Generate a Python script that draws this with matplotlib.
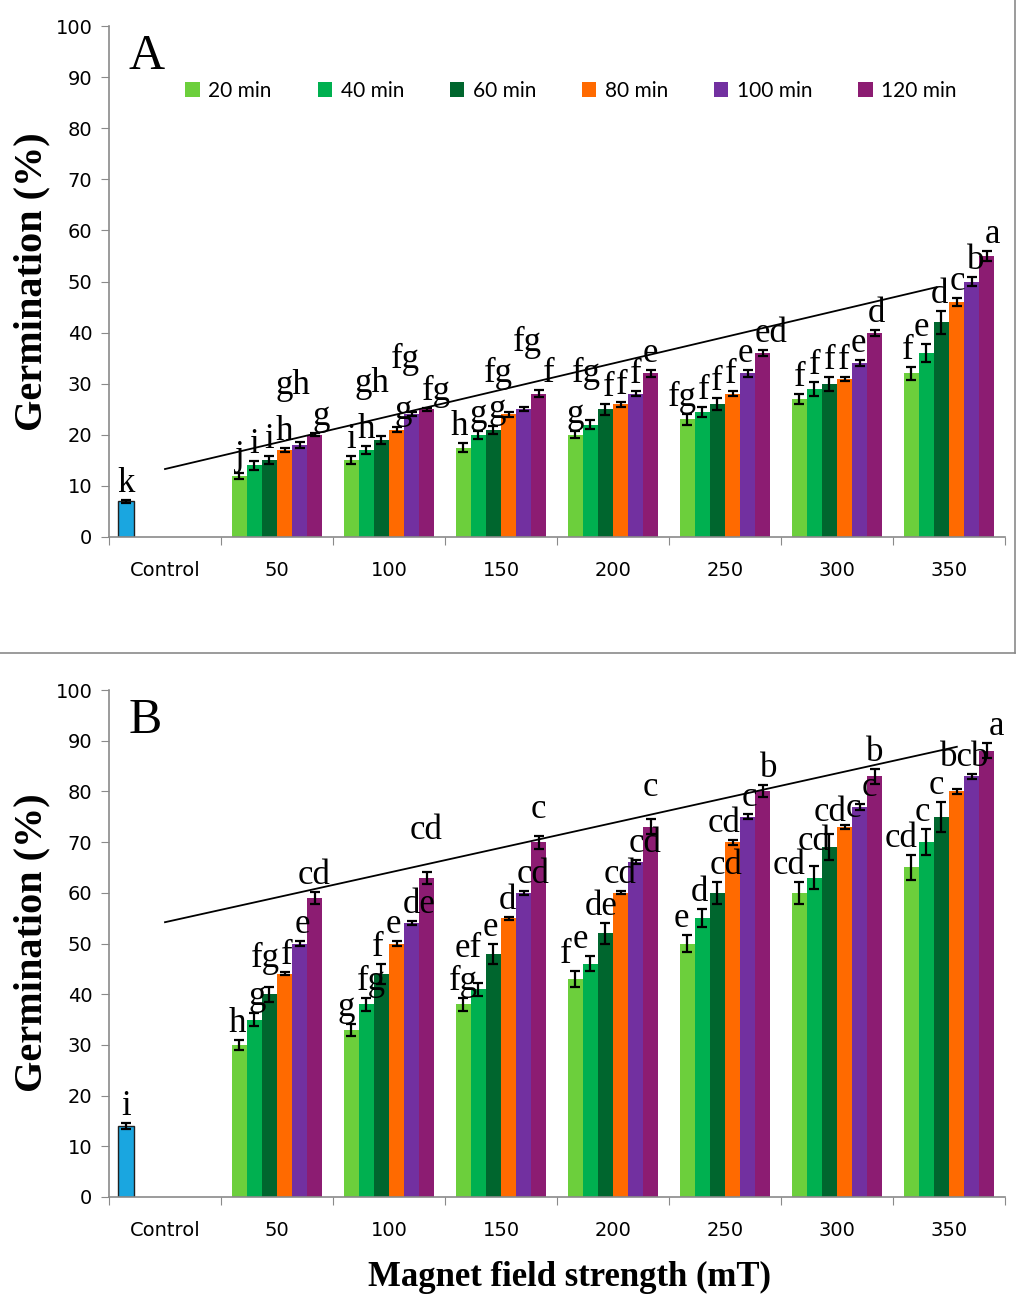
import matplotlib
matplotlib.use("Agg")
import matplotlib.pyplot as plt
from matplotlib.patches import Patch
from matplotlib.lines import Line2D
import numpy as np

# ---- data -------------------------------------------------------------
categories = ["Control", "50", "100", "150", "200", "250", "300", "350"]
durations = ["20 min", "40 min", "60 min", "80 min", "100 min", "120 min"]

# Panel A
control_a = 7
control_a_err = 0.3
control_a_letter = "k"
a_means = {
    "20 min": [12, 15, 17.5, 20, 23, 27, 32],
    "40 min": [14, 17, 20, 22, 24.5, 29, 36],
    "60 min": [15, 19, 21, 25, 26, 30, 42],
    "80 min": [17, 21, 24, 26, 28, 31, 46],
    "100 min": [18, 24, 25, 28, 32, 34, 50],
    "120 min": [20, 25, 28, 32, 36, 40, 55],
}
a_errs = {
    "20 min": [0.6, 0.8, 0.9, 0.7, 1.0, 1.0, 1.3],
    "40 min": [0.8, 0.8, 0.8, 0.9, 1.0, 1.4, 1.8],
    "60 min": [0.8, 0.8, 0.8, 1.1, 1.2, 1.4, 2.2],
    "80 min": [0.4, 0.5, 0.5, 0.5, 0.5, 0.4, 0.8],
    "100 min": [0.5, 0.4, 0.4, 0.5, 0.6, 0.6, 0.8],
    "120 min": [0.3, 0.3, 0.7, 0.6, 0.6, 0.6, 0.9],
}
a_letters = {
    "20 min": ["j", "i", "h", "g", "fg", "f", "f"],
    "40 min": ["i", "h", "g", "fg", "f", "f", "e"],
    "60 min": ["i", "gh", "g", "f", "f", "f", "d"],
    "80 min": ["h", "g", "fg", "f", "f", "f", "c"],
    "100 min": ["gh", "fg", "fg", "f", "e", "e", "b"],
    "120 min": ["g", "fg", "f", "e", "ed", "d", "a"],
}
trend_a_x = [0.0, 6.89]
trend_a_y = [13.3, 48.9]

# Panel B
control_b = 14
control_b_err = 0.5
control_b_letter = "i"
b_means = {
    "20 min": [30, 33, 38, 43, 50, 60, 65],
    "40 min": [35, 38, 41, 46, 55, 63, 70],
    "60 min": [40, 44, 48, 52, 60, 69, 75],
    "80 min": [44, 50, 55, 60, 70, 73, 80],
    "100 min": [50, 54, 60, 66, 75, 77, 83],
    "120 min": [59, 63, 70, 73, 80, 83, 88],
}
b_errs = {
    "20 min": [1.0, 1.2, 1.3, 1.5, 1.7, 2.2, 2.5],
    "40 min": [1.2, 1.3, 1.3, 1.5, 1.8, 2.2, 2.5],
    "60 min": [1.5, 2.0, 2.0, 2.0, 2.2, 2.5, 3.0],
    "80 min": [0.3, 0.4, 0.3, 0.3, 0.5, 0.4, 0.5],
    "100 min": [0.4, 0.4, 0.4, 0.4, 0.5, 0.6, 0.5],
    "120 min": [1.2, 1.2, 1.3, 1.5, 1.2, 1.5, 1.5],
}
b_letters = {
    "20 min": ["h", "g", "fg", "f", "e", "cd", "cd"],
    "40 min": ["g", "fg", "ef", "e", "d", "cd", "c"],
    "60 min": ["fg", "f", "e", "de", "cd", "cd", "c"],
    "80 min": ["f", "e", "d", "cd", "cd", "c", "bc"],
    "100 min": ["e", "de", "cd", "cd", "c", "c", "b"],
    "120 min": ["cd", "cd", "c", "c", "b", "b", "a"],
}
trend_b_x = [0.0, 7.07]
trend_b_y = [54.2, 88.8]

# ---- styling ----------------------------------------------------------
colors = ["#6ccf3c", "#00b050", "#00662e", "#ff6a00", "#7230a0", "#8c1c72"]
control_color = "#1aa6e0"
serif = ["Liberation Serif", "DejaVu Serif"]
sans = ["DejaVu Sans"]
letter_size = 25

W, H = 1019, 1296
fig = plt.figure(figsize=(W / 100, H / 100), dpi=100)

bar_w = 0.134
ctrl_x = -0.345
px_per_unit_y = 5.1
px_per_unit_x = 112.0

# letters that sit higher than the default position (pixels)
lifts_a = {(0, 4): 40, (1, 2): 36, (1, 4): 36, (2, 3): 22, (2, 4): 48, (3, 1): 30}
lifts_b = {(0, 2): 12, (1, 5): 25, (2, 1): 18, (2, 5): 10, (3, 5): 15,
           (5, 1): 8, (5, 2): 6, (6, 3): 15}

group_texts = []


def panel(ax, ctrl, ctrl_err, ctrl_letter, means, errs, letters, tx, ty, lifts, tag):
    ax.set_xlim(-0.5, 7.5)
    ax.set_ylim(0, 100)
    # control bar
    ax.bar(ctrl_x, ctrl, width=0.143, color=control_color, edgecolor="#202020",
           linewidth=1.0, zorder=2)
    ax.errorbar(ctrl_x, ctrl, yerr=ctrl_err, fmt="none", ecolor="black",
                elinewidth=1.6, capsize=3.5, capthick=1.6, zorder=3)
    ax.text(ctrl_x, ctrl + ctrl_err, ctrl_letter, ha="center", va="bottom",
            fontsize=letter_size, family=serif, zorder=4)

    xs = np.arange(1, 8)
    texts = [[] for _ in range(7)]
    for j, d in enumerate(durations):
        off = (j - 2.5) * bar_w
        ax.bar(xs + off, means[d], width=bar_w, color=colors[j], zorder=2,
               linewidth=0)
        ax.errorbar(xs + off, means[d], yerr=errs[d], fmt="none", ecolor="black",
                    elinewidth=1.6, capsize=3.5, capthick=1.6, zorder=3)
        for i in range(7):
            lift = lifts.get((i, j), 0) / px_per_unit_y
            t = ax.text(xs[i] + off, means[d][i] + errs[d][i] + lift,
                        letters[d][i], ha="center", va="bottom",
                        fontsize=letter_size, family=serif, zorder=4)
            texts[i].append(t)
    group_texts.extend(texts)

    ax.plot(tx, ty, color="black", linewidth=1.3, zorder=5)

    # axes styling
    for s in ["top", "right"]:
        ax.spines[s].set_visible(False)
    for s in ["left", "bottom"]:
        ax.spines[s].set_color("#8a8a8a")
        ax.spines[s].set_linewidth(1.2)
    ax.set_yticks(np.arange(0, 101, 10))
    ax.tick_params(axis="y", direction="out", length=6, color="#8a8a8a",
                   labelsize=14, pad=6)
    ax.set_xticks(np.arange(-0.5, 8.0, 1.0))
    ax.set_xticklabels([])
    ax.tick_params(axis="x", which="major", direction="out", length=6,
                   color="#8a8a8a")
    ax.set_xticks(np.arange(0, 8), minor=True)
    ax.set_xticklabels(categories, minor=True)
    ax.tick_params(axis="x", which="minor", length=0, labelsize=14, pad=17)
    for lab in ax.get_xticklabels(minor=True) + ax.get_yticklabels():
        lab.set_family(sans)

    ax.text(0.022, 0.985, tag, transform=ax.transAxes, ha="left", va="top",
            fontsize=36, family=serif)


ax_a = fig.add_axes([109 / W, 1 - 537 / H, 896 / W, 511 / H])
ax_b = fig.add_axes([109 / W, 1 - 1197 / H, 896 / W, 507 / H])

panel(ax_a, control_a, control_a_err, control_a_letter, a_means, a_errs,
      a_letters, trend_a_x, trend_a_y, lifts_a, "A")
panel(ax_b, control_b, control_b_err, control_b_letter, b_means, b_errs,
      b_letters, trend_b_x, trend_b_y, lifts_b, "B")

# y axis titles
for yc in [282, 943]:
    fig.text(32 / W, 1 - yc / H, "Germination (%)", rotation=90, ha="center",
             va="center", fontsize=29, fontweight="bold", family=serif)

# x axis title
fig.text(570 / W, 1 - 1277 / H, "Magnet field strength (mT)", ha="center",
         va="center", fontsize=25, fontweight="bold", family=serif)

# legend of panel A
handles = [Patch(facecolor=c, edgecolor="none") for c in colors]
ax_a.legend(handles, durations, loc="center", ncol=6, frameon=False,
            bbox_to_anchor=(571 / W, 1 - 91 / H), bbox_transform=fig.transFigure,
            handlelength=0.7, handleheight=0.7, handletextpad=0.4,
            columnspacing=2.2, prop={"family": ["Lato", "DejaVu Sans"], "size": 15})

# frame around panel A
fig.add_artist(Line2D([0, 1015 / W], [1 - 653 / H, 1 - 653 / H],
                      transform=fig.transFigure, color="#8a8a8a", linewidth=1.2))
fig.add_artist(Line2D([1015 / W, 1015 / W], [1 - 653 / H, 1.0],
                      transform=fig.transFigure, color="#8a8a8a", linewidth=1.2))

# spread the letters of a group so that they sit side by side
fig.canvas.draw()
renderer = fig.canvas.get_renderer()
max_drift = 10.0
drift = {}
for _ in range(14):
    moved = False
    for texts in group_texts:
        for k in range(len(texts)):
            for m in range(k + 1, len(texts)):
                a, b = texts[k], texts[m]
                ba = a.get_window_extent(renderer)
                bb = b.get_window_extent(renderer)
                yov = min(ba.y1, bb.y1) - max(ba.y0, bb.y0)
                xov = min(ba.x1, bb.x1) - max(ba.x0, bb.x0)
                if yov > 0 and xov > -1:
                    step = min(xov / 2 + 1.0, 3.0)
                    for t, sgn in ((a, -1), (b, 1)):
                        d0 = drift.get(id(t), 0.0)
                        d1 = max(-max_drift, min(max_drift, d0 + sgn * step))
                        if d1 != d0:
                            x, y = t.get_position()
                            t.set_position((x + (d1 - d0) / px_per_unit_x, y))
                            drift[id(t)] = d1
                            moved = True
    if not moved:
        break

fig.savefig("out.png", dpi=100)
